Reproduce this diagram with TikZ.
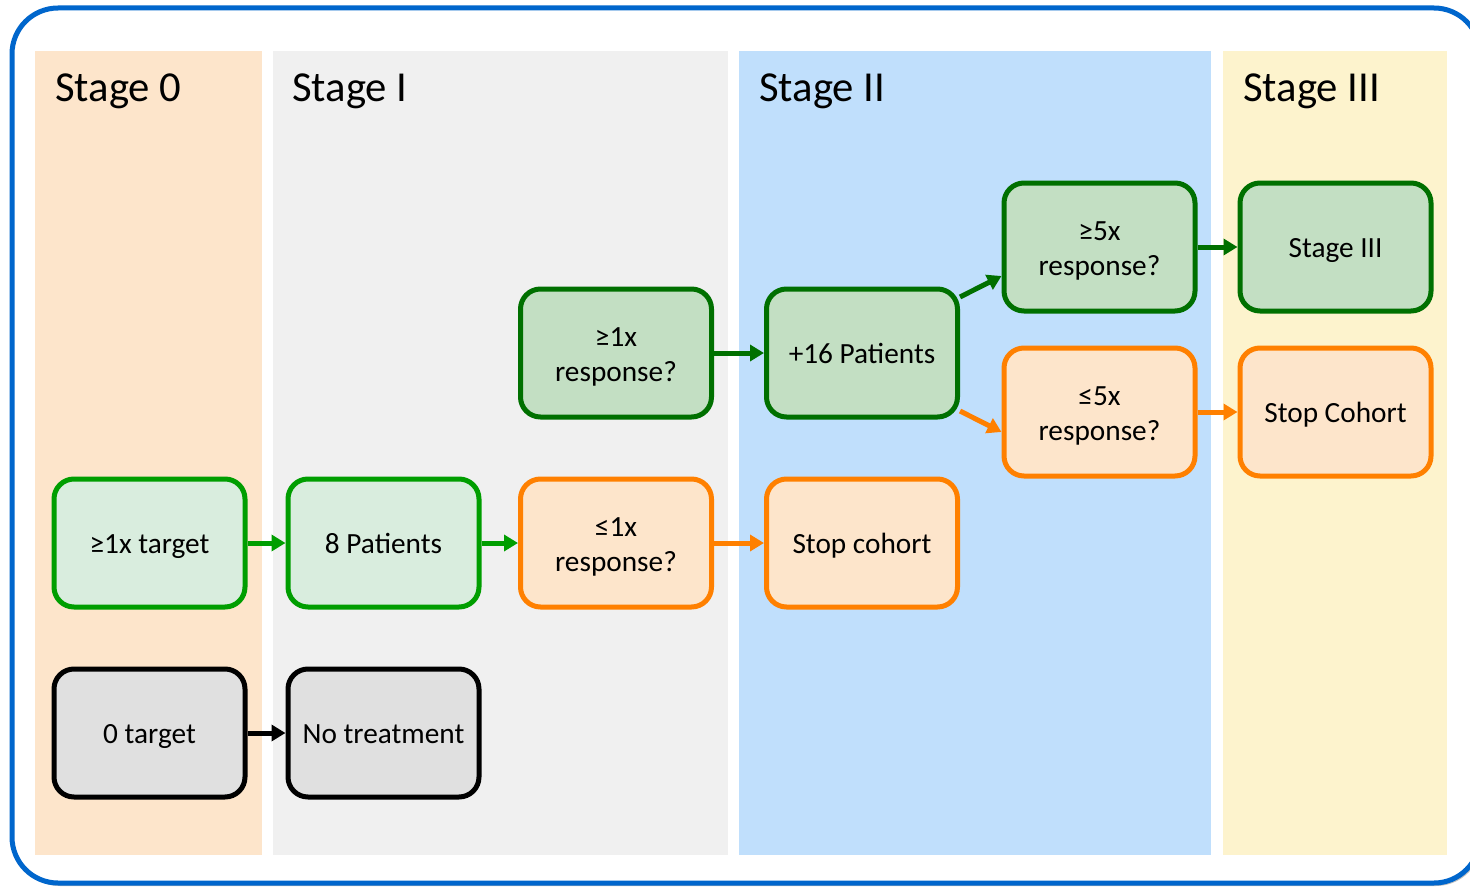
\documentclass[tikz,border=0pt]{standalone}
\usepackage{fontspec}
\setmainfont{Carlito}
\usetikzlibrary{arrows.meta,shadows}

\definecolor{frameblue}{RGB}{0,102,204}
\definecolor{panelpeach}{RGB}{253,229,203}
\definecolor{panelgrey}{RGB}{240,240,240}
\definecolor{panelblue}{RGB}{192,223,252}
\definecolor{panelyellow}{RGB}{253,243,205}
\definecolor{lightgreenfill}{RGB}{217,237,222}
\definecolor{lightgreenline}{RGB}{0,158,0}
\definecolor{darkgreenfill}{RGB}{195,223,195}
\definecolor{darkgreenline}{RGB}{0,112,0}
\definecolor{orangeline}{RGB}{255,128,0}
\definecolor{orangefill}{RGB}{253,229,203}
\definecolor{greyfill}{RGB}{224,224,224}

\tikzset{
  box/.style={rectangle, rounded corners=20pt, line width=5pt,
    minimum width=191pt, minimum height=128pt, inner sep=2pt,
    align=center, font=\fontsize{29.3}{35}\selectfont},
  single/.style={text height=26pt, text depth=6pt},
  double/.style={text height=61pt},
  lgbox/.style={box, draw=lightgreenline, fill=lightgreenfill},
  dgbox/.style={box, draw=darkgreenline, fill=darkgreenfill},
  orbox/.style={box, draw=orangeline, fill=orangefill},
  gybox/.style={box, draw=black, fill=greyfill},
  flow/.style={line width=5pt, -{Triangle[length=14pt,width=16pt]}},
  stagetitle/.style={anchor=base west, inner sep=0pt, font=\fontsize{42.7}{50}\selectfont},
}

\begin{document}
\begin{tikzpicture}[x=1pt,y=-1pt]
  \useasboundingbox (0,0) rectangle (1470,888);
  \fill[white] (0,0) rectangle (1470,888);

  % outer frame
  \draw[frameblue, line width=5pt, rounded corners=46pt, fill=white,
        drop shadow={shadow xshift=2pt, shadow yshift=-3pt, opacity=0.25, fill=black}]
    (12,8) rectangle (1480,883);

  % stage panels
  \fill[panelpeach]  (35,51)   rectangle (262,855);
  \fill[panelgrey]   (273,51)  rectangle (728,855);
  \fill[panelblue]   (739,51)  rectangle (1211,855);
  \fill[panelyellow] (1223,51) rectangle (1447,855);

  \node[stagetitle] (h0) at (55,102)   {Stage 0};
  \node[stagetitle] (h1) at (292,102)  {Stage I};
  \node[stagetitle] (h2) at (759,102)  {Stage II};
  \node[stagetitle] (h3) at (1243,102) {Stage III};

  % boxes
  \node[lgbox, single] (t1)    at (149.5,543) {≥1x target};
  \node[lgbox, single] (p8)    at (383.5,543) {8 Patients};
  \node[orbox, double] (r1lo)  at (616,543)   {≤1x\\response?};
  \node[orbox, single] (stopc) at (862,543)   {Stop cohort};
  \node[dgbox, double] (r1hi)  at (616,353)   {≥1x\\response?};
  \node[dgbox, single] (p16)   at (862,353)   {+16 Patients};
  \node[dgbox, double] (r5hi)  at (1099.5,247) {≥5x\\response?};
  \node[dgbox, single] (s3)    at (1335.5,247) {Stage III};
  \node[orbox, double] (r5lo)  at (1099.5,412) {≤5x\\response?};
  \node[orbox, single] (stopC) at (1335.5,412) {Stop Cohort};
  \node[gybox, single] (t0)    at (149.5,733) {0 target};
  \node[gybox, single] (notr)  at (383.5,733) {No treatment};

  % connectors
  \draw[flow, lightgreenline] (t1) -- (p8);
  \draw[flow, lightgreenline] (p8) -- (r1lo);
  \draw[flow, orangeline] (r1lo) -- (stopc);
  \draw[flow, darkgreenline] (r1hi) -- (p16);
  \draw[flow, darkgreenline] ([yshift=56pt]p16.east) -- ([yshift=-29pt]r5hi.west);
  \draw[flow, orangeline] ([yshift=-58pt]p16.east) -- ([yshift=-20pt]r5lo.west);
  \draw[flow, darkgreenline] (r5hi) -- (s3);
  \draw[flow, orangeline] (r5lo) -- (stopC);
  \draw[flow, black] (t0) -- (notr);
\end{tikzpicture}
\end{document}
